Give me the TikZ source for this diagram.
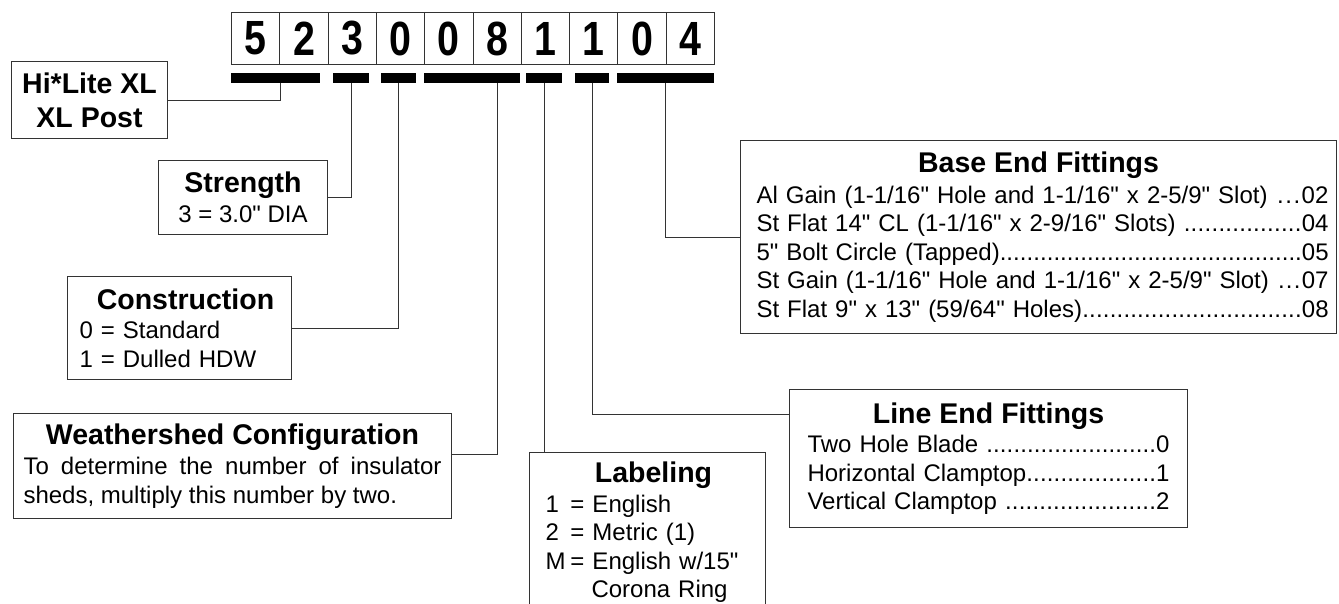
\documentclass[tikz,border=0pt]{standalone}
\usepackage{graphicx}
\usepackage{fontspec}
\setmainfont{Liberation Sans}[Ligatures=TeXOff]
\setlength{\parindent}{0pt}

\newcommand{\titlefont}{\fontsize{28.5}{34}\selectfont\bfseries}
\newcommand{\bodyfont}{\fontsize{24}{28.5}\selectfont}
\newcommand{\dotrow}[2]{\leavevmode\hbox to \hsize{#1\xleaders\hbox{.}\hfill #2}}
\newcommand{\boxtitle}[1]{\makebox[\hsize]{\titlefont #1}}

\begin{document}
\begin{tikzpicture}[x=1pt, y=-1pt]

\newlength{\cellw}
\setlength{\cellw}{48.3pt}

\useasboundingbox (0,0) rectangle (1339,603);
\clip (0,0) rectangle (1339,603);

% styles
\pgfkeys{/wire/.style={draw=black!80, line width=1pt}} % leader lines
\pgfkeys{/cell/.style={/wire, inner sep=0, anchor=north west, minimum width=\cellw, minimum height=52pt, font=\fontsize{48}{48}\selectfont\bfseries}} % code digits
\pgfkeys{/bar/.style={fill=black, inner sep=0, anchor=north west, minimum height=10pt}} % underline bars
\pgfkeys{/field/.style={/wire, inner sep=0, anchor=north west, font=\bodyfont}} % legend boxes

% code digits
\foreach \digit [count=\i] in {5,2,3,0,0,8,1,1,0,4} {
\node[/cell] (d\i) at ({231pt+(\i-1)*\cellw}, -12pt) {\scalebox{0.82}[1]{\digit}};
}
% underline bars, one per field
\foreach \xa/\xb [count=\k] in {231/320, 333/369, 381/416, 424/520, 526/562, 575/609, 617/714} {
\node[/bar, minimum width=\xb-\xa] (b\k) at (\xa,73) {};
}

% legend boxes
\node[/field, minimum width=156, minimum height=77, align=center, font=\titlefont] (hilite) at (11,61) {Hi*Lite XL\\XL Post};
\node[/field, minimum width=169, minimum height=74, align=center] (strength) at (158,160) {{\titlefont Strength}\\[1pt]3 = 3.0" DIA};
\node[/field, minimum width=224, minimum height=103, text width=200, inner xsep=12, align=left] (construct) at (67,276) {\boxtitle{\hspace{12pt}Construction}\\[1pt]
0 = Standard\\
1 = Dulled HDW};
\node[/field, minimum width=438, minimum height=105, text width=418, inner xsep=10, align=justify] (weather) at (13,413) {\tolerance=9999 \boxtitle{Weathershed Configuration}\\[2pt]
To determine the number of insulator sheds, multiply this number by two.};
\node[/field, minimum width=236, text width=204, inner xsep=16, inner ysep=9.5, align=left] (labeling) at (529,452) {\boxtitle{\hspace{12pt}Labeling}\\[1pt]
\makebox[25pt][l]{1}= English\\
\makebox[25pt][l]{2}= Metric (1)\\
\makebox[25pt][l]{M}= English w/15"\\
\hspace*{46pt}Corona Ring};
\node[/field, minimum width=398, minimum height=138, text width=362, inner xsep=18, align=left] (lineend) at (789,389) {\boxtitle{Line End Fittings}\\[1pt]
\dotrow{Two Hole Blade }{0}\\
\dotrow{Horizontal Clamptop}{1}\\
\dotrow{Vertical Clamptop }{2}};
\node[/field, minimum width=596, minimum height=193, text width=580, inner xsep=8, align=left] (base) at (740,140) {\boxtitle{Base End Fittings}\\[2pt]
\dotrow{\hspace*{8pt}Al Gain (1-1/16" Hole and 1-1/16" x 2-5/9" Slot) }{02}\\
\dotrow{\hspace*{8pt}St Flat 14" CL (1-1/16" x 2-9/16" Slots) }{04}\\
\dotrow{\hspace*{8pt}5" Bolt Circle (Tapped)}{05}\\
\dotrow{\hspace*{8pt}St Gain (1-1/16" Hole and 1-1/16" x 2-5/9" Slot) }{07}\\
\dotrow{\hspace*{8pt}St Flat 9" x 13" (59/64" Holes)}{08}};

% leader lines from bars to boxes
\draw[/wire] (b1.south -| d1.east) |- (hilite.east);
\draw[/wire] (b2.south) |- (strength.east);
\draw[/wire] (b3.south) |- (construct.east);
\draw[/wire] (b4.south -| d6.center) |- ([yshift=-41pt]weather.north east);
\draw[/wire] (b5.south) -- (b5.south |- labeling.north);
\draw[/wire] (b6.south) |- ([yshift=-25pt]lineend.north west);
\draw[/wire] (b7.south) |- (base.west);

\end{tikzpicture}
\end{document}
